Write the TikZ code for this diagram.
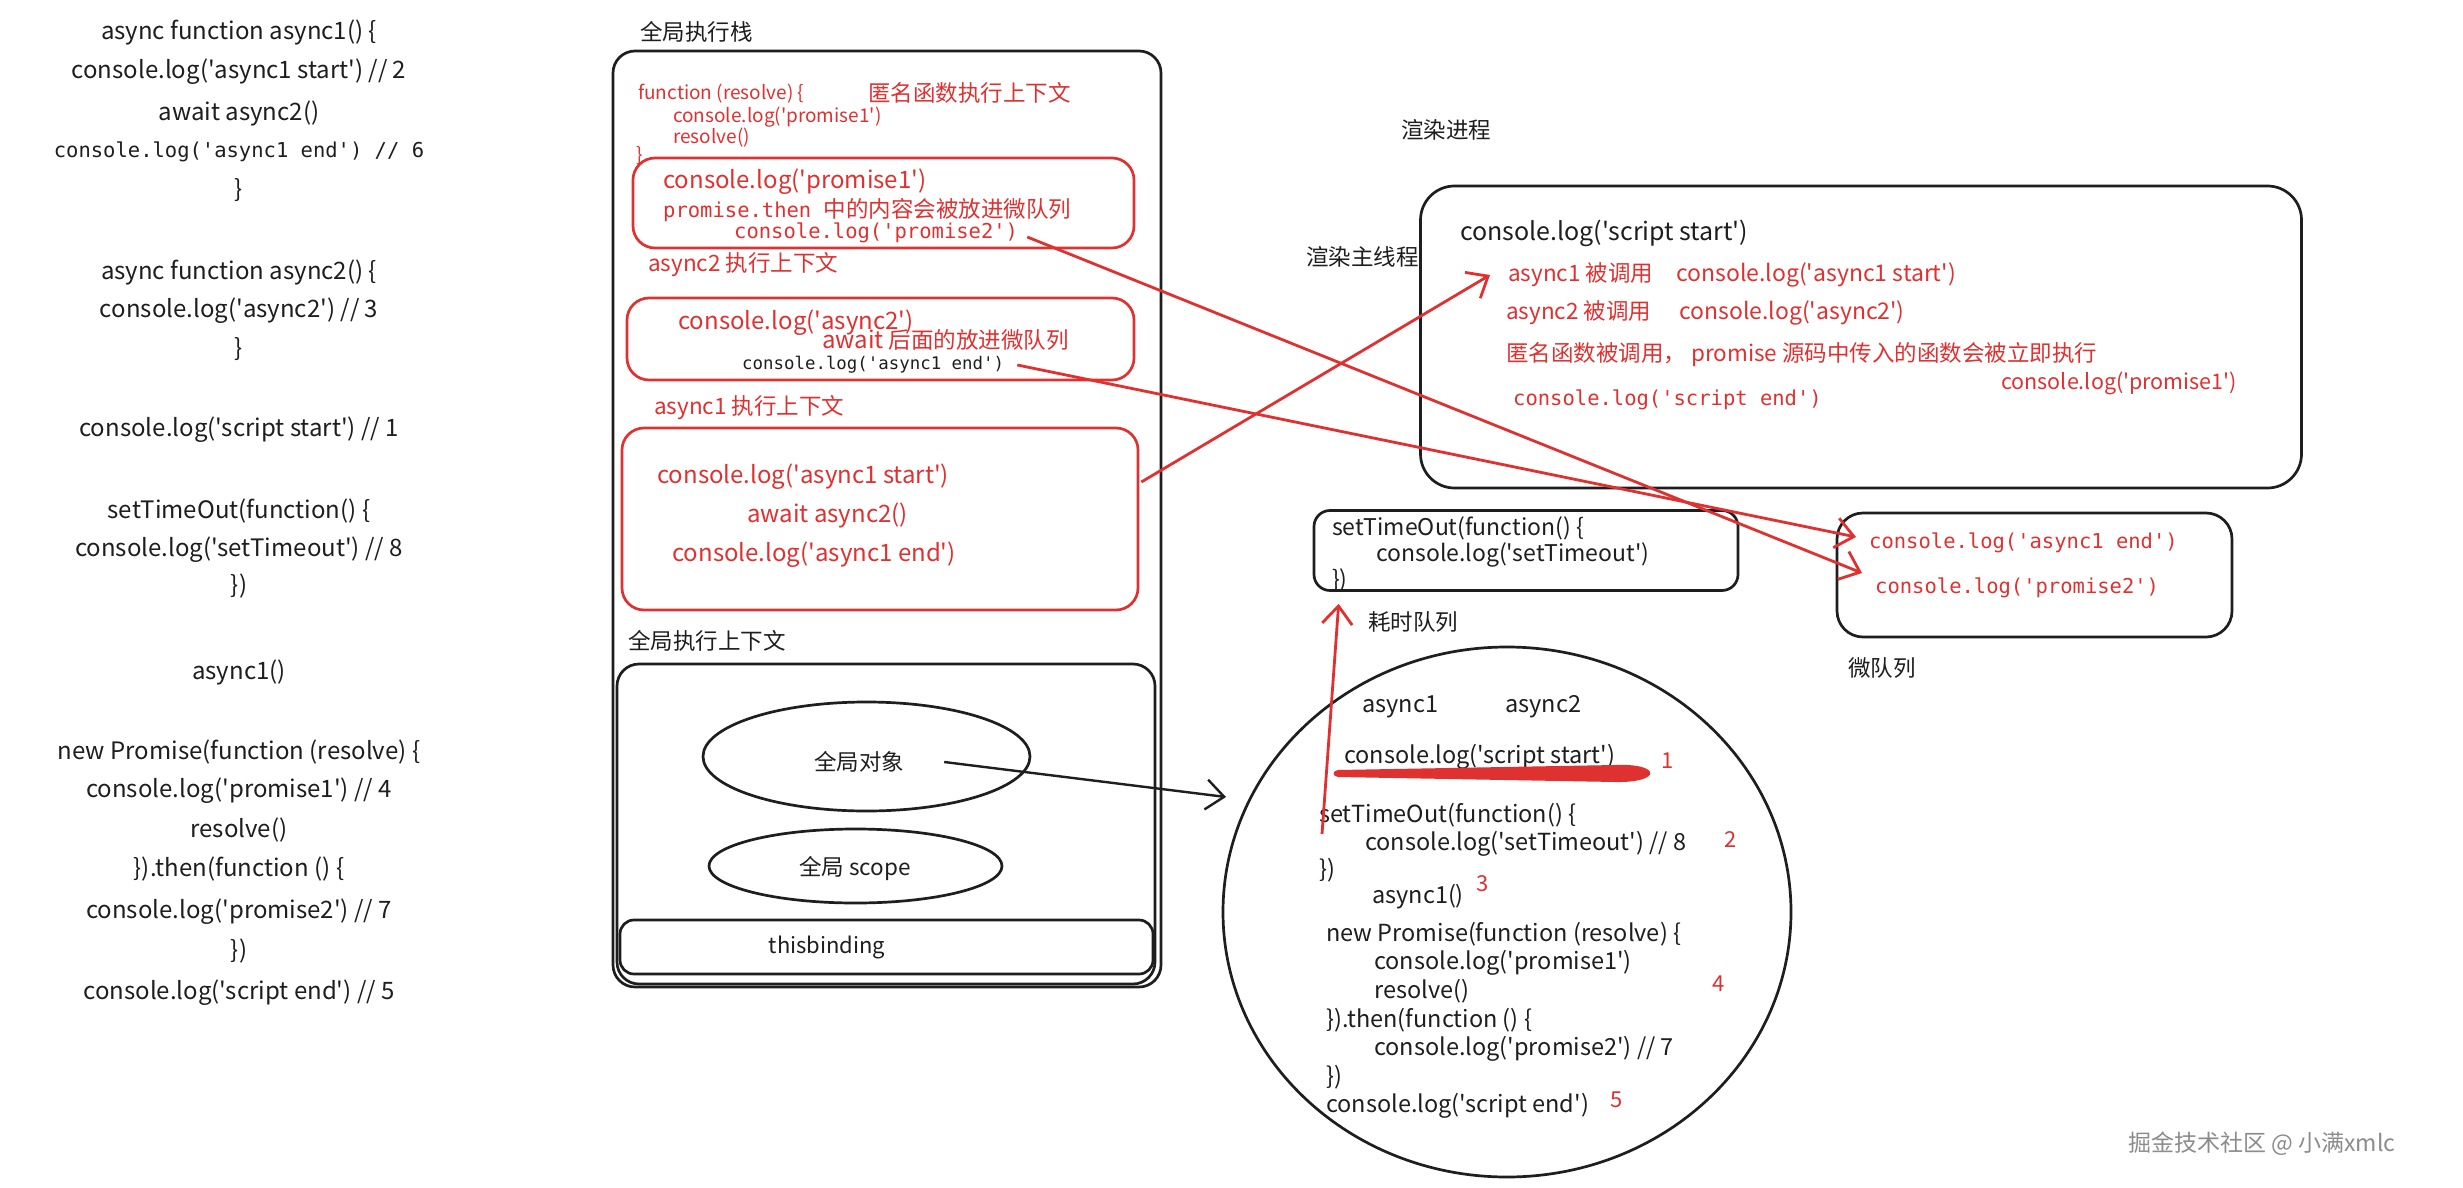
\documentclass[tikz,border=0pt]{standalone}
\usepackage{fontspec}
\setmainfont{Noto Sans CJK SC}[Ligatures=TeXOff]
\setmonofont{DejaVu Sans Mono}
\usepackage{tikz}
\usetikzlibrary{shapes.geometric, arrows.meta, positioning, calc}
\definecolor{sketchRed}{RGB}{224, 49, 49}
\definecolor{sketchInk}{RGB}{30, 30, 30}
\definecolor{markGray}{RGB}{140, 140, 140}

\begin{document}
\begin{tikzpicture}[x=1pt, y=-1pt, line join=round,
  every node/.style={inner sep=0pt, text=sketchInk},
  hand/.style={font=\fontsize{24}{28}\selectfont},
  looph/.style={font=\fontsize{23.5}{27}\selectfont},
  boxhand/.style={font=\fontsize{24}{28}\selectfont},
  runhand/.style={font=\fontsize{23}{27}\selectfont},
  smallhand/.style={font=\fontsize{19}{22}\selectfont},
  code/.style={font=\ttfamily\fontsize{20.5}{24}\selectfont},
  cn/.style={font=\fontsize{22.5}{26}\selectfont},
  num/.style={font=\fontsize{22}{24}\selectfont, text=sketchRed},
  hot/.style={text=sketchRed},
  sketchbox/.style={draw=sketchInk, line width=2.7pt, rounded corners=22pt},
  redbox/.style={draw=sketchRed, line width=2.7pt, rounded corners=22pt},
  oval/.style={draw=sketchInk, line width=2.7pt, ellipse},
  redarrow/.style={draw=sketchRed, line width=2.8pt, -{Straight Barb[length=18pt, width=30pt]}},
  inkarrow/.style={draw=sketchInk, line width=2.4pt, -{Straight Barb[length=18pt, width=30pt]}}]

  \fill[white] (0,0) rectangle (2463,1188);

  % source code column
  \node[hand] (srcA1) at (239,32) {async function async1() \{};
  \node[hand] (srcA1Log) at (239,72) {console.log('async1 start') // 2};
  \node[hand] (srcA1Await) at (239,113) {await async2()};
  \node[code] (srcA1End) at (239,152) {console.log('async1 end') // 6};
  \node[hand] (srcA1Close) at (239,190) {\}};
  \node[hand] (srcA2) at (239,272) {async function async2() \{};
  \node[hand] (srcA2Log) at (239,311) {console.log('async2') // 3};
  \node[hand] (srcA2Close) at (239,349) {\}};
  \node[hand] (srcStart) at (239,430) {console.log('script start') // 1};
  \node[hand] (srcTimer) at (239,511) {setTimeOut(function() \{};
  \node[hand] (srcTimerLog) at (239,550) {console.log('setTimeout') // 8};
  \node[hand] (srcTimerClose) at (239,586) {\})};
  \node[hand] (srcCall) at (239,672) {async1()};
  \node[hand] (srcProm) at (239,752) {new Promise(function (resolve) \{};
  \node[hand] (srcPromLog) at (239,791) {console.log('promise1') // 4};
  \node[hand] (srcResolve) at (239,830) {resolve()};
  \node[hand] (srcThen) at (239,869) {\}).then(function () \{};
  \node[hand] (srcThenLog) at (239,912) {console.log('promise2') // 7};
  \node[hand] (srcThenClose) at (239,951) {\})};
  \node[hand] (srcEnd) at (239,993) {console.log('script end') // 5};

  % global execution stack
  \node[anchor=west, cn] (stackLbl) at (640,32) {全局执行栈};
  \node[sketchbox, minimum width=548, minimum height=936] (stack) at (887,519) {};
  \node[anchor=west, smallhand, hot] (fnHead) at (638,94) {function (resolve) \{};
  \node[anchor=west, smallhand, hot] (fnLog) at (673,117) {console.log('promise1')};
  \node[anchor=west, smallhand, hot] (fnRes) at (673,138) {resolve()};
  \node[anchor=west, smallhand, hot] (fnClose) at (636,156) {\}};
  \node[anchor=west, cn, hot] (anonLbl) at (868,93) {匿名函数执行上下文};

  \node[redbox, minimum width=501, minimum height=90] (ctxP) at (883.5,203) {};
  \node[anchor=west, boxhand, hot] (p1Log) at (663,182) {console.log('promise1')};
  \node[anchor=west, code, hot] (thenNote) at (663,210) {promise.then {\rmfamily\fontsize{22.5}{26}\selectfont 中的内容会被放进微队列}};
  \node[anchor=west, code, hot] (p2Log) at (734,233) {console.log('promise2')};

  \node[anchor=west, cn, hot] (a2Lbl) at (648,265) {async2 执行上下文};
  \node[redbox, minimum width=507, minimum height=82] (ctxB) at (880.5,339) {};
  \node[anchor=west, boxhand, hot] (a2Log) at (678,323) {console.log('async2')};
  \node[anchor=west, cn, hot] (awaitNote) at (822,340) {{\fontsize{24}{28}\selectfont await} 后面的放进微队列};
  \node[anchor=west, code, font=\ttfamily\fontsize{17.4}{20}\selectfont] (a1EndOld) at (742,365) {console.log('async1 end')};

  \node[anchor=west, cn, hot] (a1Lbl) at (654,408) {async1 执行上下文};
  \node[redbox, minimum width=516, minimum height=182] (ctxA) at (880,519) {};
  \node[anchor=west, boxhand, hot] (a1StartLog) at (657,477) {console.log('async1 start')};
  \node[anchor=west, boxhand, hot] (a1Await) at (747,515) {await async2()};
  \node[anchor=west, boxhand, hot] (a1EndLog) at (672,555) {console.log('async1 end')};

  \node[anchor=west, cn] (globalLbl) at (628,641) {全局执行上下文};
  \node[sketchbox, minimum width=538, minimum height=320] (globalCtx) at (886,824) {};
  \node[oval, minimum width=327, minimum height=109] (objOval) at (866.5,756.5) {};
  \node[cn] (objLbl) at (859,762) {全局对象};
  \node[oval, minimum width=293, minimum height=74] (scopeOval) at (855.5,866) {};
  \node[cn] (scopeLbl) at (855,868) {全局 scope};
  \node[sketchbox, rounded corners=14pt, minimum width=533, minimum height=54] (thisBox) at (886.5,947) {};
  \node[font=\fontsize{22}{26}\selectfont] (thisLbl) at (827,947) {thisbinding};

  % renderer main thread
  \node[anchor=west, cn] (procLbl) at (1401,130) {渲染进程};
  \node[anchor=west, cn] (mainLbl) at (1306,257) {渲染主线程};
  \node[sketchbox, rounded corners=34pt, minimum width=881, minimum height=302] (render) at (1861,337) {};
  \node[anchor=west, font=\fontsize{25}{28}\selectfont] (runStart) at (1460,233) {console.log('script start')};
  \node[anchor=west, cn, hot] (callA) at (1508,275) {async1 被调用};
  \node[anchor=west, runhand, hot] (runA1) at (1676,275) {console.log('async1 start')};
  \node[anchor=west, cn, hot] (callB) at (1506,313) {async2 被调用};
  \node[anchor=west, runhand, hot] (runA2) at (1679,313) {console.log('async2')};
  \node[anchor=west, cn, hot] (callAnon) at (1506,355) {匿名函数被调用， promise 源码中传入的函数会被立即执行};
  \node[anchor=west, font=\fontsize{21.5}{25}\selectfont, hot] (runP1) at (2001,383) {console.log('promise1')};
  \node[anchor=west, code, hot] (runEnd) at (1513,400) {console.log('script end')};

  % task queue
  \node[sketchbox, rounded corners=16pt, minimum width=424, minimum height=80] (timerBox) at (1526,550.5) {};
  \node[anchor=west, runhand] (tmHead) at (1332,528) {setTimeOut(function() \{};
  \node[anchor=west, runhand] (tmLog) at (1376,555) {console.log('setTimeout')};
  \node[anchor=west, runhand] (tmClose) at (1332,580) {\})};
  \node[anchor=west, cn] (slowLbl) at (1368,622) {耗时队列};

  % microtask queue
  \node[sketchbox, rounded corners=26pt, minimum width=395, minimum height=124] (microBox) at (2034.5,575) {};
  \node[anchor=west, code, hot] (mqA1) at (1869,543) {console.log('async1 end')};
  \node[anchor=west, code, hot] (mqP2) at (1875,588) {console.log('promise2')};
  \node[anchor=west, cn] (microLbl) at (1848,668) {微队列};

  % script run order
  \node[oval, minimum width=568, minimum height=530] (loop) at (1507,912) {};
  \node[anchor=west, looph] (tagA1) at (1362,707) {async1};
  \node[anchor=west, looph] (tagA2) at (1505,707) {async2};
  \node[anchor=west, looph] (loopStart) at (1344,757) {console.log('script start')};
  \node[anchor=west, looph] (loopTimer) at (1319,815) {setTimeOut(function() \{};
  \node[anchor=west, looph] (loopTimerLog) at (1365,844) {console.log('setTimeout') // 8};
  \node[anchor=west, looph] (loopTimerClose) at (1319,870) {\})};
  \node[anchor=west, looph] (loopCall) at (1372,897) {async1()};
  \node[anchor=west, looph] (loopProm) at (1326,934) {new Promise(function (resolve) \{};
  \node[anchor=west, looph] (loopPromLog) at (1374,963) {console.log('promise1')};
  \node[anchor=west, looph] (loopResolve) at (1374,991) {resolve()};
  \node[anchor=west, looph] (loopThen) at (1326,1020) {\}).then(function () \{};
  \node[anchor=west, looph] (loopThenLog) at (1374,1049) {console.log('promise2') // 7};
  \node[anchor=west, looph] (loopThenClose) at (1326,1077) {\})};
  \node[anchor=west, looph] (loopEnd) at (1326,1106) {console.log('script end')};
  \node[num] (n1) at (1668,761) {1};
  \node[num] (n2) at (1731,840) {2};
  \node[num] (n3) at (1483,884) {3};
  \node[num] (n4) at (1719,984) {4};
  \node[num] (n5) at (1617,1100) {5};
  \fill[sketchRed] (1338,770) -- (1615,765) .. controls (1662,763) and (1662,783) .. (1615,782) -- (1338,777) .. controls (1332,776) and (1332,771) .. (1338,770) -- cycle;

  \node[anchor=west, font=\fontsize{23}{26}\selectfont, text=markGray] (mark) at (2128,1144) {掘金技术社区 @ 小满xmlc};

  % connectors
  \coordinate (objTip) at (1226,797);
  \draw[inkarrow] ([xshift=40pt]objLbl.east) -- (objTip);
  \draw[redarrow] ($(ctxA.east)+(2,-37)$) -- ([xshift=-18pt]callA.west);
  \draw[redarrow] ([xshift=9pt,yshift=-4pt]p2Log.east) -- ([xshift=-13pt,yshift=15pt]mqP2.west);
  \draw[redarrow] ([xshift=13pt]a1EndOld.east) -- ([xshift=-13pt,yshift=6pt]mqA1.west);
  \draw[redarrow] ([xshift=3pt,yshift=-19pt]loopTimer.west) -- ([xshift=26pt,yshift=-12pt]timerBox.south west);
\end{tikzpicture}
\end{document}
